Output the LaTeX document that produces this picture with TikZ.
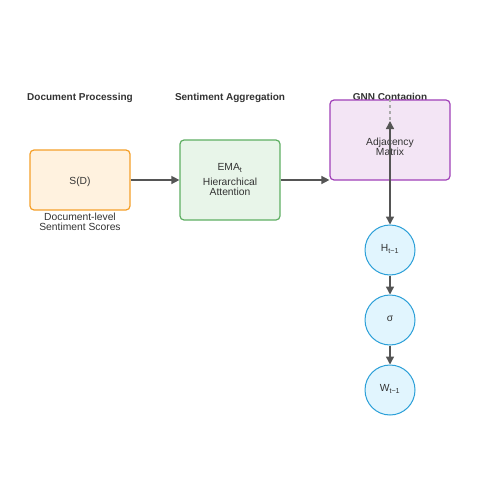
\documentclass[tikz,border=0pt]{standalone}
\usepackage{fontspec}
\setmainfont{Liberation Sans}
\usetikzlibrary{arrows.meta}
\definecolor{txt}{HTML}{333333}
\definecolor{arr}{HTML}{555555}
\definecolor{orB}{HTML}{F5A02A}
\definecolor{orF}{HTML}{FFF2DF}
\definecolor{grB}{HTML}{5FAF63}
\definecolor{grF}{HTML}{E8F5E9}
\definecolor{puB}{HTML}{A040B8}
\definecolor{puF}{HTML}{F3E5F5}
\definecolor{blB}{HTML}{2A9FD8}
\definecolor{blF}{HTML}{E1F5FE}
\begin{document}
\begin{tikzpicture}[x=1pt,y=-1pt,
  title/.style={font=\fontsize{10}{11}\selectfont\bfseries, text=txt},
  lbl/.style={font=\fontsize{10.3}{10}\selectfont, text=txt, align=center},
  box/.style={draw, rounded corners=4pt, line width=1.2pt, inner sep=0pt, font=\fontsize{10.3}{10}\selectfont, text=txt, align=center},
  circ/.style={draw=blB, fill=blF, circle, line width=1pt, minimum size=50pt, inner sep=0pt, font=\fontsize{10.3}{10}\selectfont, text=txt},
  conn/.style={draw=arr, line width=1.4pt, -{Triangle[length=8pt,width=8pt]}}
]
\useasboundingbox (0,0) rectangle (500,500);
\fill[white] (0,0) rectangle (500,500);
\node[title] (t1) at (80,98) {Document Processing};
\node[title] (t2) at (230,98) {Sentiment Aggregation};
\node[title] (t3) at (390,98) {GNN Contagion};

\node[box, draw=orB, fill=orF, minimum width=100pt, minimum height=60pt] (sd) at (80,180) {};
\node[lbl] (sdt) at (80,182) {S(D)};
\node[lbl] (sdl) at (80,222) {Document-level\\Sentiment Scores};

\node[box, draw=grB, fill=grF, minimum width=100pt, minimum height=80pt] (ema) at (230,180) {};
\node[lbl] (emat) at (230,168) {EMA\textsubscript{t}};
\node[lbl] (hier) at (230,187) {Hierarchical\\Attention};

\node[box, draw=puB, fill=puF, minimum width=120pt, minimum height=80pt] (adj) at (390,140) {};
\node[lbl] (adjt) at (390,147) {Adjacency\\Matrix};

\node[circ] (h) at (390,250) {};
\node[lbl] (ht) at (390,249) {H\textsubscript{t−1}};
\node[circ] (s) at (390,320) {};
\node[lbl] (st) at (390,319) {σ};
\node[circ] (w) at (390,390) {};
\node[lbl] (wt) at (390,389) {W\textsubscript{t−1}};

\coordinate (c) at (390,121);
\draw[conn] (sd.east) -- (ema.west);
\draw[conn] (ema.east) -- (adj.west |- ema.east);
\draw[draw=arr!50, line width=1.2pt, dashed] (adj.north) -- (c);
\draw[conn, {Triangle[length=8pt,width=8pt]}-{Triangle[length=8pt,width=8pt]}] (c) -- (h.north);
\draw[conn] (h.south) -- (s.north);
\draw[conn] (s.south) -- (w.north);
\end{tikzpicture}
\end{document}
